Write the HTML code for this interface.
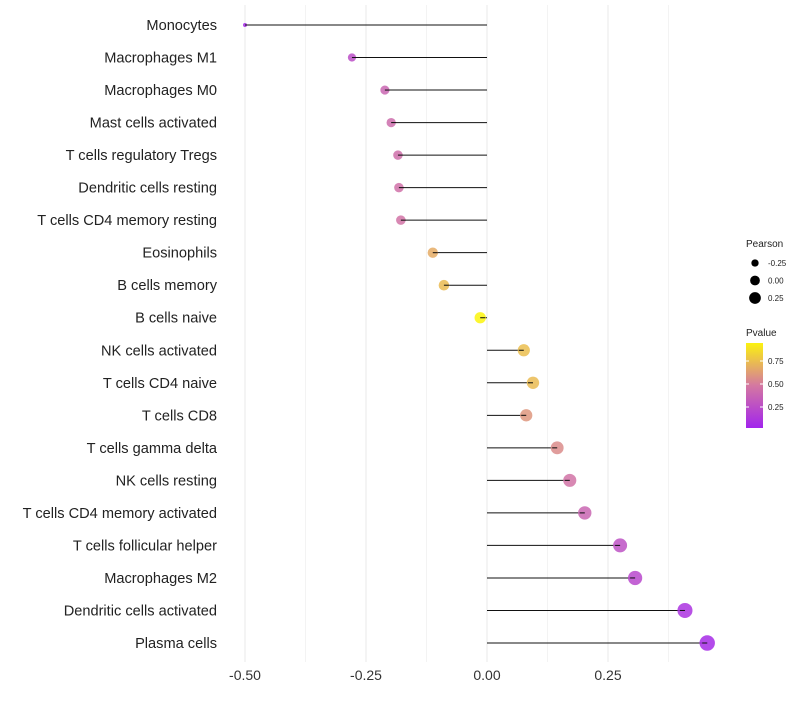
<!DOCTYPE html>
<html><head><meta charset="utf-8"><style>
body{margin:0;background:#fff;font-family:"Liberation Sans",sans-serif}
</style></head><body>
<svg id="c" width="800" height="700" xmlns="http://www.w3.org/2000/svg"></svg>
<script>
const categories=["Monocytes","Macrophages M1","Macrophages M0","Mast cells activated","T cells regulatory  Tregs ","Dendritic cells resting","T cells CD4 memory resting","Eosinophils","B cells memory","B cells naive","NK cells activated","T cells CD4 naive","T cells CD8","T cells gamma delta","NK cells resting","T cells CD4 memory activated","T cells follicular helper","Macrophages M2","Dendritic cells activated","Plasma cells"];
const pearson=[-0.50,-0.279,-0.211,-0.198,-0.184,-0.182,-0.178,-0.112,-0.089,-0.014,0.076,0.095,0.081,0.145,0.171,0.202,0.275,0.306,0.409,0.455];
const pvalue=[0.05,0.25,0.38,0.42,0.43,0.44,0.45,0.68,0.74,0.96,0.75,0.74,0.6,0.56,0.45,0.38,0.27,0.22,0.1,0.06];
const xTicks=[-0.5,-0.25,0,0.25];
const xTickLabels=["-0.50","-0.25","0.00","0.25"];
const NS="http://www.w3.org/2000/svg";
const svg=document.getElementById('c');
const x=v=>487+v*484;
const y=i=>25+i*(618/19);
const r=v=>Math.sqrt(4+58*(v+0.5));
function mix(a,b,t){return a.map((c,i)=>Math.round(c+(b[i]-c)*t));}
function col(p){const s=[[160,32,240],[214,124,158],[255,255,0]];let c=p<0.5?mix(s[0],s[1],p/0.5):mix(s[1],s[2],(p-0.5)/0.5);return `rgb(${c})`;}
function el(t,a,txt){const e=document.createElementNS(NS,t);for(const k in a)e.setAttribute(k,a[k]);if(txt!==undefined)e.textContent=txt;svg.appendChild(e);return e;}
[-0.5,-0.375,-0.25,-0.125,0,0.125,0.25,0.375].forEach(v=>{
const g=el('line',{x1:x(v),x2:x(v),y1:5,y2:662,stroke:'#ebebeb','stroke-width':v*8%2===0?1.1:0.6});


});
xTicks.forEach((v,i)=>{
const t=el('text',{x:x(v),y:680,'text-anchor':'middle','font-size':14,fill:'#333'},xTickLabels[i]);


});
categories.forEach((c,i)=>{
const t=el('text',{x:217,y:y(i)+5,'text-anchor':'end','font-size':14.6,fill:'#222'},c);


const l=el('line',{x1:x(0),x2:x(pearson[i]),y1:y(i),y2:y(i),stroke:'#111','stroke-width':1});


const p=el('circle',{cx:x(pearson[i]),cy:y(i),r:r(pearson[i]),fill:col(pvalue[i]),'fill-opacity':0.85});


const l2=el('line',{x1:x(pearson[i]),x2:x(pearson[i])+(pearson[i]<0?5:-5),y1:y(i),y2:y(i),stroke:'#111','stroke-width':1});


});
let t=el('text',{x:746,y:247,'font-size':10,fill:'#222'},'Pearson');


[-0.25,0,0.25].forEach((v,i)=>{
const cy=263+i*17.5;
const c=el('circle',{cx:755,cy:cy,r:r(v)*0.85,fill:'#000'});


const tt=el('text',{x:768,y:cy+3,'font-size':8,fill:'#222'},["-0.25","0.00","0.25"][i]);


});
t=el('text',{x:746,y:336,'font-size':10,fill:'#222'},'Pvalue');


const defs=el('defs',{});
const lg=document.createElementNS(NS,'linearGradient');lg.setAttribute('id','g');lg.setAttribute('x1','0');lg.setAttribute('y1','1');lg.setAttribute('x2','0');lg.setAttribute('y2','0');
[[0,0.02],[0.5,0.48],[1,0.95]].forEach(([o,p])=>{const s=document.createElementNS(NS,'stop');s.setAttribute('offset',o);s.setAttribute('stop-color',col(p));lg.appendChild(s);});
defs.appendChild(lg);
const bar=el('rect',{x:746,y:343,width:17,height:85,fill:'url(#g)'});


[[0.75,361],[0.5,384],[0.25,407]].forEach(([v,yy])=>{
el('line',{x1:746,x2:749,y1:yy,y2:yy,stroke:'#fff'});el('line',{x1:760,x2:763,y1:yy,y2:yy,stroke:'#fff'});
const tt=el('text',{x:768,y:yy+3,'font-size':8,fill:'#222'},v.toFixed(2));


});
</script>
</body></html>
